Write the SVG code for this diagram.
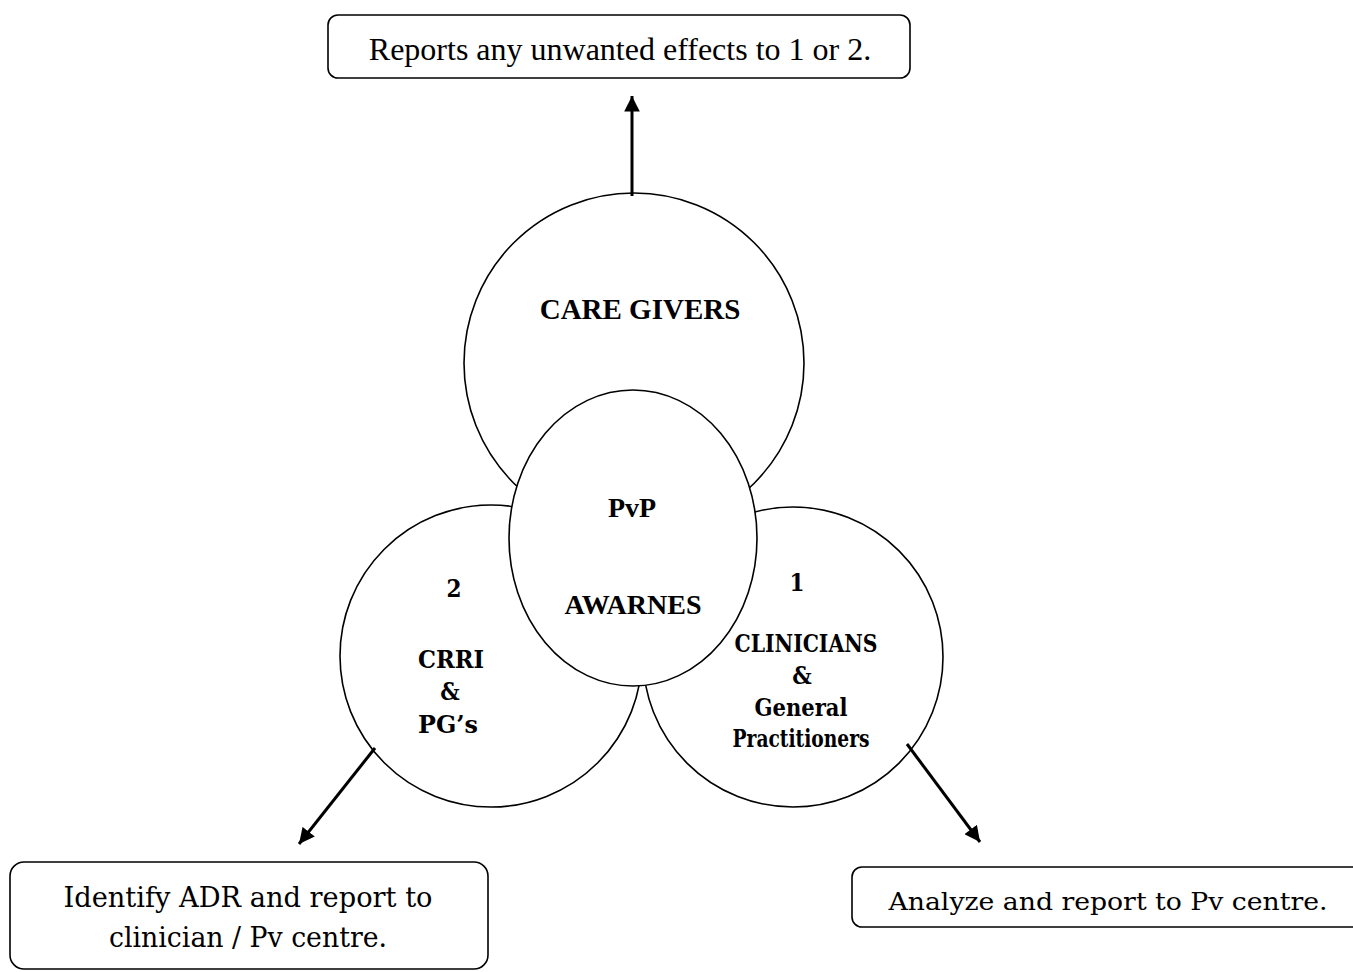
<svg xmlns="http://www.w3.org/2000/svg" width="1353" height="972" viewBox="0 0 1353 972">
<style>
.shape{fill:#fff;stroke:#000;stroke-width:1.6}
.box{fill:#fff;stroke:#000;stroke-width:1.6}
.conn{stroke:#000;stroke-width:3;fill:none}
</style>
<defs>
<marker id="ah" viewBox="0 0 10 10" refX="10" refY="5" markerWidth="5.4" markerHeight="5.2" orient="auto" markerUnits="strokeWidth">
<path d="M0,0 L10,5 L0,10 z" fill="#000"/>
</marker>
</defs>
<rect width="1353" height="972" fill="#fff"/>
<g id="care-givers">
<circle class="shape" cx="634" cy="363" r="170"/>
<text font-family="Liberation Serif" font-weight="bold" font-size="29" x="640" y="319" text-anchor="middle">CARE GIVERS</text>
</g>
<g id="crri">
<circle class="shape" cx="491" cy="656" r="151"/>
<text font-family="DejaVu Serif Condensed" font-weight="bold" font-size="24" text-anchor="middle" x="454" y="597">2</text>
<text font-family="DejaVu Serif Condensed" font-weight="bold" font-size="24" text-anchor="middle" x="451" y="668" textLength="66" lengthAdjust="spacingAndGlyphs">CRRI</text>
<text font-family="DejaVu Serif Condensed" font-weight="bold" font-size="24" text-anchor="middle" x="450" y="700">&amp;</text>
<text font-family="DejaVu Serif Condensed" font-weight="bold" font-size="24" text-anchor="middle" x="448" y="733" textLength="60" lengthAdjust="spacingAndGlyphs">PG’s</text>
</g>
<g id="clinicians">
<circle class="shape" cx="793" cy="657" r="150"/>
<text font-family="DejaVu Serif Condensed" font-weight="bold" font-size="24" text-anchor="middle" x="797" y="591">1</text>
<text font-family="DejaVu Serif Condensed" font-weight="bold" font-size="24" text-anchor="middle" x="806" y="652" textLength="143" lengthAdjust="spacingAndGlyphs">CLINICIANS</text>
<text font-family="DejaVu Serif Condensed" font-weight="bold" font-size="24" text-anchor="middle" x="802" y="684">&amp;</text>
<text font-family="DejaVu Serif Condensed" font-weight="bold" font-size="24" text-anchor="middle" x="801" y="716" textLength="93" lengthAdjust="spacingAndGlyphs">General</text>
<text font-family="DejaVu Serif Condensed" font-weight="bold" font-size="24" text-anchor="middle" x="801" y="747" textLength="137" lengthAdjust="spacingAndGlyphs">Practitioners</text>
</g>
<g id="pvp">
<ellipse class="shape" cx="633" cy="538" rx="124" ry="148"/>
<text font-family="Liberation Serif" font-weight="bold" font-size="28" text-anchor="middle" x="632" y="517">PvP</text>
<text font-family="Liberation Serif" font-weight="bold" font-size="28" text-anchor="middle" x="633" y="614">AWARNES</text>
</g>
<g id="connectors">
<line class="conn" x1="632" y1="196" x2="632" y2="96" marker-end="url(#ah)"/>
<line class="conn" x1="375" y1="748" x2="299" y2="844" marker-end="url(#ah)"/>
<line class="conn" x1="907" y1="744" x2="980" y2="842" marker-end="url(#ah)"/>
</g>
<g id="box-top">
<rect class="box" x="328" y="15" width="582" height="63" rx="10"/>
<text font-family="Liberation Serif" font-size="32" x="620" y="60" text-anchor="middle">Reports any unwanted effects to 1 or 2.</text>
</g>
<g id="box-left">
<rect class="box" x="10" y="862" width="478" height="107" rx="14"/>
<text font-family="DejaVu Serif Condensed" font-size="27" text-anchor="middle" x="248" y="907" textLength="369" lengthAdjust="spacingAndGlyphs">Identify ADR  and report to</text>
<text font-family="DejaVu Serif Condensed" font-size="27" text-anchor="middle" x="248" y="947" textLength="278" lengthAdjust="spacingAndGlyphs">clinician / Pv centre.</text>
</g>
<g id="box-right">
<rect class="box" x="852" y="867" width="520" height="60" rx="10"/>
<text font-family="DejaVu Serif Condensed" font-size="25" text-anchor="middle" x="1108" y="910" textLength="439" lengthAdjust="spacingAndGlyphs">Analyze and report to Pv centre.</text>
</g>
</svg>
